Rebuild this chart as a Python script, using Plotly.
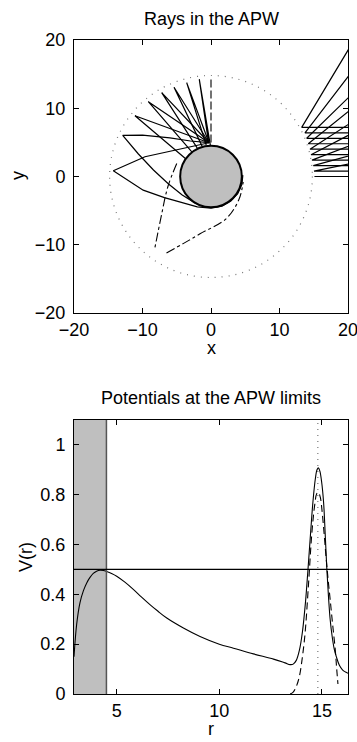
import plotly.graph_objects as go

# ---------------- data: top panel (rays) ----------------
R_BODY = 4.5          # radius of the grey body
R_APW = 14.8          # radius of the APW limit (dotted)

# fan of rays leaving near the top of the body (each: list of x, list of y)
fan_x = [
    [-0.1, -1.71, -0.35],
    [-0.7, -3.55, -0.3],
    [-1.3, -5.40, -0.3],
    [-2.0, -7.20, -0.3],
    [-2.8, -9.15, -0.3],
    [-3.7, -11.1, -0.3],
    [-0.8, -2.4, -4.2, -6.2, -8.4, -10.6, -12.89, -10.0, -6.0, -3.0, -0.3],
    [4.65, 4.5, 3.9, 2.9, 1.6, 0.0, -2.0, -4.0, -6.8, -9.9, -12.2, -14.26,
     -9.64, -4.28, -0.3],
]
fan_y = [
    [4.6, 14.24, 4.95],
    [4.6, 13.75, 4.95],
    [4.45, 13.07, 4.95],
    [4.15, 12.28, 4.95],
    [3.6, 10.96, 4.95],
    [2.6, 8.91, 4.95],
    [-4.45, -3.85, -2.7, -1.1, 0.95, 3.3, 6.04, 6.05, 5.65, 5.2, 4.95],
    [0.2, -1.2, -2.5, -3.6, -4.35, -4.62, -4.45, -3.9, -3.1, -2.0, -0.5, 0.85,
     2.9, 4.13, 4.95],
]

# dash-dot rays
dd_a_x = [-5.0, -6.3, -7.3, -8.2]
dd_a_y = [1.9, -1.5, -6.0, -10.5]
dd_b_x = [-6.5, -4.0, -1.6, 2.3, 4.1, 4.7]
dd_b_y = [-11.2, -9.8, -8.4, -6.1, -3.3, -0.8]

# dashed radial ray
dash_x = [0.0, 0.0]
dash_y = [5.0, 14.3]

# rays coming in from the right: impact parameter, turning x, exit y at x=20
right_b = [7.2, 6.4, 5.6, 4.8, 4.0, 3.2, 2.4, 1.6, 0.8, 0.0]
right_turn = [13.24, 13.72, 13.97, 14.2, 14.45, 14.6, 14.74, 14.93, 15.04, 15.1]
right_exit = [18.5, 14.6, 11.5, 9.5, 7.6, 6.0, 4.4, 3.0, 1.8, 0.0]
X_EDGE = 20.0

# ---------------- data: bottom panel (potentials) ----------------
r_solid = [2.92, 3.05, 3.21, 3.38, 3.54, 3.7, 3.86, 4.02, 4.19, 4.35, 4.51, 4.75,
           5.0, 5.4, 5.81, 6.2, 6.62, 7.0, 7.44, 8.25, 9.06, 10.0, 10.69, 11.66,
           12.64, 13.2, 13.45, 13.6, 13.75, 13.9, 14.05, 14.2, 14.32, 14.45,
           14.56, 14.68, 14.76, 14.83, 14.9, 14.98, 15.08, 15.16, 15.24, 15.32,
           15.4, 15.5, 15.6, 15.7, 15.85, 16.0, 16.15, 16.27]
v_solid = [0.15, 0.28, 0.366, 0.415, 0.446, 0.468, 0.484, 0.493, 0.497, 0.496,
           0.492, 0.484, 0.473, 0.449, 0.42, 0.39, 0.359, 0.333, 0.305, 0.265,
           0.231, 0.20, 0.184, 0.161, 0.14, 0.125, 0.118, 0.12, 0.135, 0.175,
           0.25, 0.37, 0.5, 0.65, 0.77, 0.865, 0.9, 0.908, 0.895, 0.855, 0.77,
           0.64, 0.5, 0.39, 0.3, 0.23, 0.18, 0.15, 0.115, 0.097, 0.088, 0.083]
r_dash = [13.45, 13.6, 13.75, 13.9, 14.05, 14.18, 14.35, 14.51, 14.65, 14.75,
          14.83, 14.92, 15.0, 15.1, 15.2, 15.3, 15.4, 15.52, 15.65, 15.72, 15.78]
v_dash = [0.0, 0.008, 0.03, 0.07, 0.15, 0.245, 0.446, 0.648, 0.76, 0.805,
          0.81, 0.79, 0.74, 0.65, 0.55, 0.46, 0.38, 0.28, 0.177, 0.1, 0.04]
V_LEVEL = 0.5
R_MIN, R_MAX = 2.92, 16.27
V_MAX = 1.1

FONT = "Liberation Sans, Arial, Helvetica, sans-serif"
GREY = "#bfbfbf"

fig = go.Figure()

line_style = dict(color="black", width=1.2)
for xs, ys in zip(fan_x, fan_y):
    fig.add_trace(go.Scatter(x=xs, y=ys, mode="lines", line=line_style,
                             xaxis="x", yaxis="y", hoverinfo="skip"))
for b, tx, ey in zip(right_b, right_turn, right_exit):
    fig.add_trace(go.Scatter(x=[X_EDGE + 1, tx, X_EDGE + 1],
                             y=[b, b, b + (ey - b) * (X_EDGE + 1 - tx) / (X_EDGE - tx)],
                             mode="lines", line=line_style,
                             xaxis="x", yaxis="y", hoverinfo="skip"))
fig.add_trace(go.Scatter(x=dd_a_x, y=dd_a_y, mode="lines", line_shape="spline",
                         line=dict(color="black", width=1.1, dash="dashdot"),
                         xaxis="x", yaxis="y"))
fig.add_trace(go.Scatter(x=dd_b_x, y=dd_b_y, mode="lines", line_shape="spline",
                         line=dict(color="black", width=1.1, dash="dashdot"),
                         xaxis="x", yaxis="y"))
fig.add_trace(go.Scatter(x=dash_x, y=dash_y, mode="lines",
                         line=dict(color="black", width=1.1, dash="8px,3px"),
                         xaxis="x", yaxis="y"))

# bottom panel
fig.add_trace(go.Scatter(x=r_solid, y=v_solid, mode="lines", line_shape="spline",
                         line=dict(color="black", width=1.1), xaxis="x2", yaxis="y2"))
fig.add_trace(go.Scatter(x=r_dash, y=v_dash, mode="lines", line_shape="spline",
                         line=dict(color="black", width=1.1, dash="7px,4px"),
                         xaxis="x2", yaxis="y2"))

shapes = [
    dict(type="circle", xref="x", yref="y", x0=-R_APW, x1=R_APW, y0=-R_APW, y1=R_APW,
         line=dict(color="#777777", width=1.2, dash="1px,6px"), layer="below"),
    dict(type="circle", xref="x", yref="y", x0=-R_BODY, x1=R_BODY, y0=-R_BODY, y1=R_BODY,
         fillcolor=GREY, line=dict(color="black", width=2), layer="above"),
    dict(type="rect", xref="x2", yref="y2", x0=R_MIN, x1=R_BODY, y0=0, y1=V_MAX,
         fillcolor=GREY, line=dict(width=0), layer="below"),
    dict(type="line", xref="x2", yref="y2", x0=R_BODY, x1=R_BODY, y0=0, y1=V_MAX,
         line=dict(color="#555555", width=1.5), layer="above"),
    dict(type="line", xref="x2", yref="y2", x0=R_MIN, x1=R_MAX, y0=V_LEVEL, y1=V_LEVEL,
         line=dict(color="black", width=1.2), layer="above"),
    dict(type="line", xref="x2", yref="y2", x0=R_APW, x1=R_APW, y0=0, y1=V_MAX,
         line=dict(color="#777777", width=1.2, dash="1px,5px"), layer="below"),
]

axis_common = dict(showline=True, linecolor="black", linewidth=1, mirror="ticks",
                   ticks="inside", ticklen=5, tickcolor="black", showgrid=False,
                   zeroline=False, automargin=False, ticklabeloverflow="allow",
                   tickfont=dict(family=FONT, size=18, color="black"))

W, H = 357, 742
x_dom = [74 / W, 348 / W]


def label(text, px, py, angle=0):
    return dict(text=text, x=px / W, y=1 - py / H, xref="paper", yref="paper",
                xanchor="center", yanchor="middle", textangle=angle, showarrow=False,
                font=dict(family=FONT, size=18, color="black"))


fig.update_layout(
    width=W, height=H, margin=dict(l=0, r=0, t=0, b=0, autoexpand=False),
    paper_bgcolor="white", plot_bgcolor="white", showlegend=False,
    xaxis=dict(domain=x_dom, range=[-20, 20], tickvals=[-20, -10, 0, 10, 20],
               anchor="y", ticklabelstandoff=0, **axis_common),
    yaxis=dict(domain=[1 - 313 / H, 1 - 40 / H], range=[-20, 20],
               tickvals=[-20, -10, 0, 10, 20], anchor="x", ticklabelstandoff=4,
               **axis_common),
    xaxis2=dict(domain=x_dom, range=[R_MIN, R_MAX], tickvals=[5, 10, 15],
                anchor="y2", ticklabelstandoff=0, **axis_common),
    yaxis2=dict(domain=[1 - 694 / H, 1 - 420 / H], range=[0, V_MAX],
                tickvals=[0, 0.2, 0.4, 0.6, 0.8, 1],
                ticktext=["0", "0.2", "0.4", "0.6", "0.8", "1"],
                anchor="x2", ticklabelstandoff=4, **axis_common),
    shapes=shapes,
    annotations=[
        label("Rays in the APW", 211, 19),
        label("x", 211, 348),
        label("y", 18, 176, -90),
        label("Potentials at the APW limits", 211, 398),
        label("r", 211, 729),
        label("V(r)", 26, 557, -90),
    ],
)

fig.write_html("out.html")
